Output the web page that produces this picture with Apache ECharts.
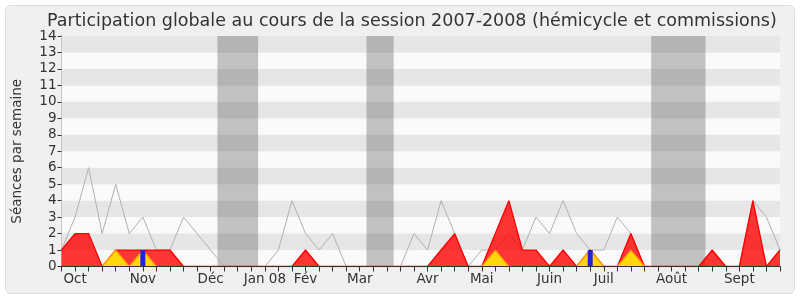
<!DOCTYPE html>
<html>
<head>
<meta charset="utf-8">
<script src="https://cdn.jsdelivr.net/npm/echarts@6/dist/echarts.min.js"></script>
<style>
html,body{margin:0;padding:0;background:#fff;}
#panel{position:absolute;left:5px;top:5px;width:788px;height:287px;background:#f0f0f0;border:1px solid #dcdcdc;border-radius:6px;}
#chart{position:absolute;left:0;top:0;width:800px;height:300px;}
</style>
</head>
<body>
<div id="panel"></div>
<div id="chart"></div>
<script>
// Week labels (54 weekly ticks, month name on first week)
const weeks = ['', 'Oct', '', '', '', '', 'Nov', '', '', '', '', 'Déc', '', '', '', 'Jan 08', '', '', 'Fév', '', '', '', 'Mar', '', '', '', '', 'Avr', '', '', '', 'Mai', '', '', '', '', 'Juin', '', '', '', 'Juil', '', '', '', '', 'Août', '', '', '', '', 'Sept', '', '', ''];
// Présences (red area)
const presences = [1, 2, 2, 0, 1, 1, 1, 1, 1, 0, 0, 0, 0, 0, 0, 0, 0, 0, 1, 0, 0, 0, 0, 0, 0, 0, 0, 0, 1, 2, 0, 0, 2, 4, 1, 1, 0, 1, 0, 1, 0, 0, 2, 0, 0, 0, 0, 0, 1, 0, 0, 4, 0, 1];
// Participations (yellow area)
const participations = [0, 0, 0, 0, 1, 0, 1, 0, 0, 0, 0, 0, 0, 0, 0, 0, 0, 0, 0, 0, 0, 0, 0, 0, 0, 0, 0, 0, 0, 0, 0, 0, 1, 0, 0, 0, 0, 0, 0, 1, 0, 0, 1, 0, 0, 0, 0, 0, 0, 0, 0, 0, 0, 0];
// Interventions (blue bars)
const interventions = [0, 0, 0, 0, 0, 0, 1, 0, 0, 0, 0, 0, 0, 0, 0, 0, 0, 0, 0, 0, 0, 0, 0, 0, 0, 0, 0, 0, 0, 0, 0, 0, 0, 0, 0, 0, 0, 0, 0, 1, 0, 0, 0, 0, 0, 0, 0, 0, 0, 0, 0, 0, 0, 0];
// Total (grey line)
const totalSeances = [1, 3, 6, 2, 5, 2, 3, 1, 1, 3, 2, 1, 0, 0, 0, 0, 1, 4, 2, 1, 2, 0, 0, 0, 0, 0, 2, 1, 4, 2, 0, 1, 1, 2, 1, 3, 2, 4, 2, 1, 1, 3, 2, 0, 0, 0, 0, 0, 0, 0, 0, 4, 3, 1];
// Vacation periods (week positions)
const vacances = [[11.5, 14.5], [22.5, 24.5], [43.5, 47.5]];
const yTicks = [0, 1, 2, 3, 4, 5, 6, 7, 8, 9, 10, 11, 12, 13, 14];

const pair = arr => arr.map((v, i) => [i, v]);
const font = 'DejaVu Sans';

const chart = echarts.init(document.getElementById('chart'), null, {renderer: 'canvas'});
chart.setOption({
  backgroundColor: 'transparent',
  animation: false,
  title: {
    text: 'Participation globale au cours de la session 2007-2008 (hémicycle et commissions)',
    left: 42, top: 7,
    textStyle: {fontFamily: font, fontSize: 17.5, fontWeight: 'normal', color: '#333'}
  },
  grid: {left: 61.5, right: 20, top: 36, bottom: 33.5, containLabel: false},
  xAxis: [{
    type: 'value', min: 0, max: weeks.length - 1, interval: 1, z: 5,
    axisLine: {show: true, onZero: false, lineStyle: {color: '#333', width: 1}},
    axisTick: {show: true, length: 5, lineStyle: {color: '#333'}},
    axisLabel: {show: true, margin: 6, interval: 0, color: '#333', fontFamily: font, fontSize: 13.5,
      showMinLabel: true, showMaxLabel: true,
      formatter: v => weeks[Math.round(v)] || ''},
    splitLine: {show: false}
  }, {
    type: 'value', min: 0, max: weeks.length - 1, interval: 1, position: 'top',
    axisLine: {show: false},
    axisTick: {show: true, inside: true, length: 1, lineStyle: {color: '#444'}},
    axisLabel: {show: false}, splitLine: {show: false}
  }],
  yAxis: [{
    type: 'value', min: 0, max: 14, interval: 1,
    name: 'Séances par semaine', nameLocation: 'middle', nameGap: 37, nameRotate: 90,
    nameTextStyle: {fontFamily: font, fontSize: 13.5, color: '#333'},
    axisLine: {show: true, lineStyle: {color: '#333'}},
    axisTick: {show: true, length: 4, lineStyle: {color: '#333'}},
    axisLabel: {color: '#333', fontFamily: font, fontSize: 13.5, margin: 5,
      formatter: v => String(yTicks[v] !== undefined ? yTicks[v] : v)},
    splitLine: {show: false},
    splitArea: {show: true, areaStyle: {color: ['#fafafa', '#e6e6e6']}}
  }, {
    type: 'value', min: 0, max: 14, interval: 1, position: 'right',
    axisLine: {show: true, lineStyle: {color: '#c8c8c8'}},
    axisTick: {show: false}, axisLabel: {show: false}, splitLine: {show: false}
  }],
  series: [
    {
      type: 'line', name: 'Total', data: pair(totalSeances), symbol: 'none', z: 1,
      lineStyle: {color: '#b0b0b0', width: 1}, itemStyle: {color: '#b0b0b0'},
      markArea: {silent: true, itemStyle: {color: 'rgba(80,80,80,0.33)'},
        data: vacances.map(v => [{xAxis: v[0]}, {xAxis: v[1]}])}
    },
    {
      type: 'line', name: 'Présences', data: pair(presences), symbol: 'none', z: 2,
      lineStyle: {color: '#ff0000', width: 1.3}, itemStyle: {color: '#ff0000'},
      areaStyle: {color: '#ff0000', opacity: 0.79, origin: 0}
    },
    {
      type: 'line', name: 'Participations', data: pair(participations), symbol: 'none', z: 3,
      lineStyle: {color: '#ffa000', width: 1.2}, itemStyle: {color: '#ffd000'},
      areaStyle: {color: '#ffd70a', opacity: 1, origin: 0}
    },
    {
      type: 'bar', name: 'Interventions', data: pair(interventions), z: 4,
      barWidth: 5, itemStyle: {color: '#2222dd'}
    }
  ]
});
</script>
</body>
</html>
